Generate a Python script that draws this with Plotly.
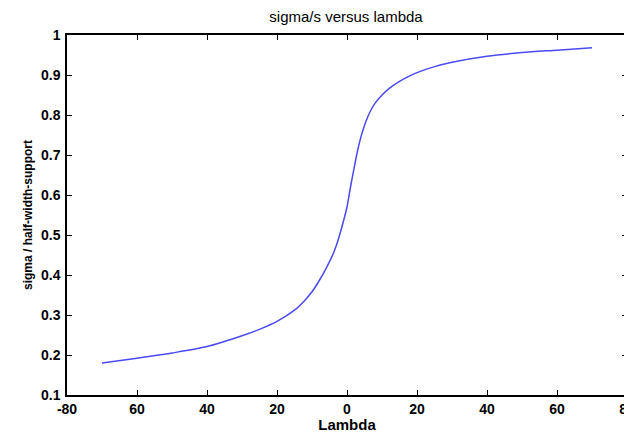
import plotly.graph_objects as go

# values
lam = [-70, -60, -50, -40, -30, -25, -20, -15, -12, -10, -8, -6, -4, -3, -2, -1, 0,
       1, 2, 3, 4, 5, 6, 7, 8, 10, 12, 15, 17.5, 20, 25, 30, 40, 50, 60, 70]
ratio = [0.180, 0.192, 0.205, 0.221, 0.248, 0.264, 0.284, 0.312, 0.337, 0.358, 0.385,
         0.416, 0.452, 0.475, 0.503, 0.535, 0.570, 0.620, 0.666, 0.710, 0.746, 0.774,
         0.797, 0.815, 0.829, 0.850, 0.866, 0.884, 0.896, 0.906, 0.921, 0.932, 0.947,
         0.956, 0.962, 0.968]

x_tickvals = [-80, -60, -40, -20, 0, 20, 40, 60, 80]
x_ticktext = ["-80", "60", "40", "20", "0", "20", "40", "60", "80"]
y_tickvals = [0.1, 0.2, 0.3, 0.4, 0.5, 0.6, 0.7, 0.8, 0.9, 1]
y_ticktext = ["0.1", "0.2", "0.3", "0.4", "0.5", "0.6", "0.7", "0.8", "0.9", "1"]

fig = go.Figure(
    data=go.Scatter(
        x=lam,
        y=ratio,
        mode="lines",
        line=dict(color="#4a4af0", width=1.5, shape="spline", smoothing=0.8),
        showlegend=False,
    )
)

axis_style = dict(
    showline=True,
    linecolor="black",
    linewidth=1.5,
    mirror="ticks",
    ticks="inside",
    ticklen=5,
    tickcolor="black",
    showgrid=False,
    zeroline=False,
    automargin=False,
    ticklabeloverflow="allow",
    tickfont=dict(family="Arial", size=14, color="black", weight="bold"),
)

# the page body adds an 8px margin, so the figure is 8px smaller than the window
fig.update_layout(
    width=624,
    height=425,
    margin=dict(l=59, r=5, t=27, b=38),
    paper_bgcolor="white",
    plot_bgcolor="white",
    title=dict(text="sigma/s versus lambda", x=338 / 624, xanchor="center",
               y=1 - 9 / 425, yanchor="middle",
               font=dict(family="Arial", size=15, color="black")),
    xaxis=dict(
        axis_style,
        range=[-80, 80],
        tickmode="array",
        tickvals=x_tickvals,
        ticktext=x_ticktext,
        title=dict(text="Lambda", standoff=0,
                   font=dict(family="Arial", size=15, color="black", weight="bold")),
    ),
    yaxis=dict(
        axis_style,
        range=[0.1, 1],
        tickmode="array",
        tickvals=y_tickvals,
        ticktext=y_ticktext,
        ticklabelstandoff=2,
        title=dict(text="sigma / half-width-support", standoff=6,
                   font=dict(family="Arial Narrow, Liberation Sans Narrow, Arial", size=12,
                             color="black", weight="bold")),
    ),
)

fig.write_html("out.html")
